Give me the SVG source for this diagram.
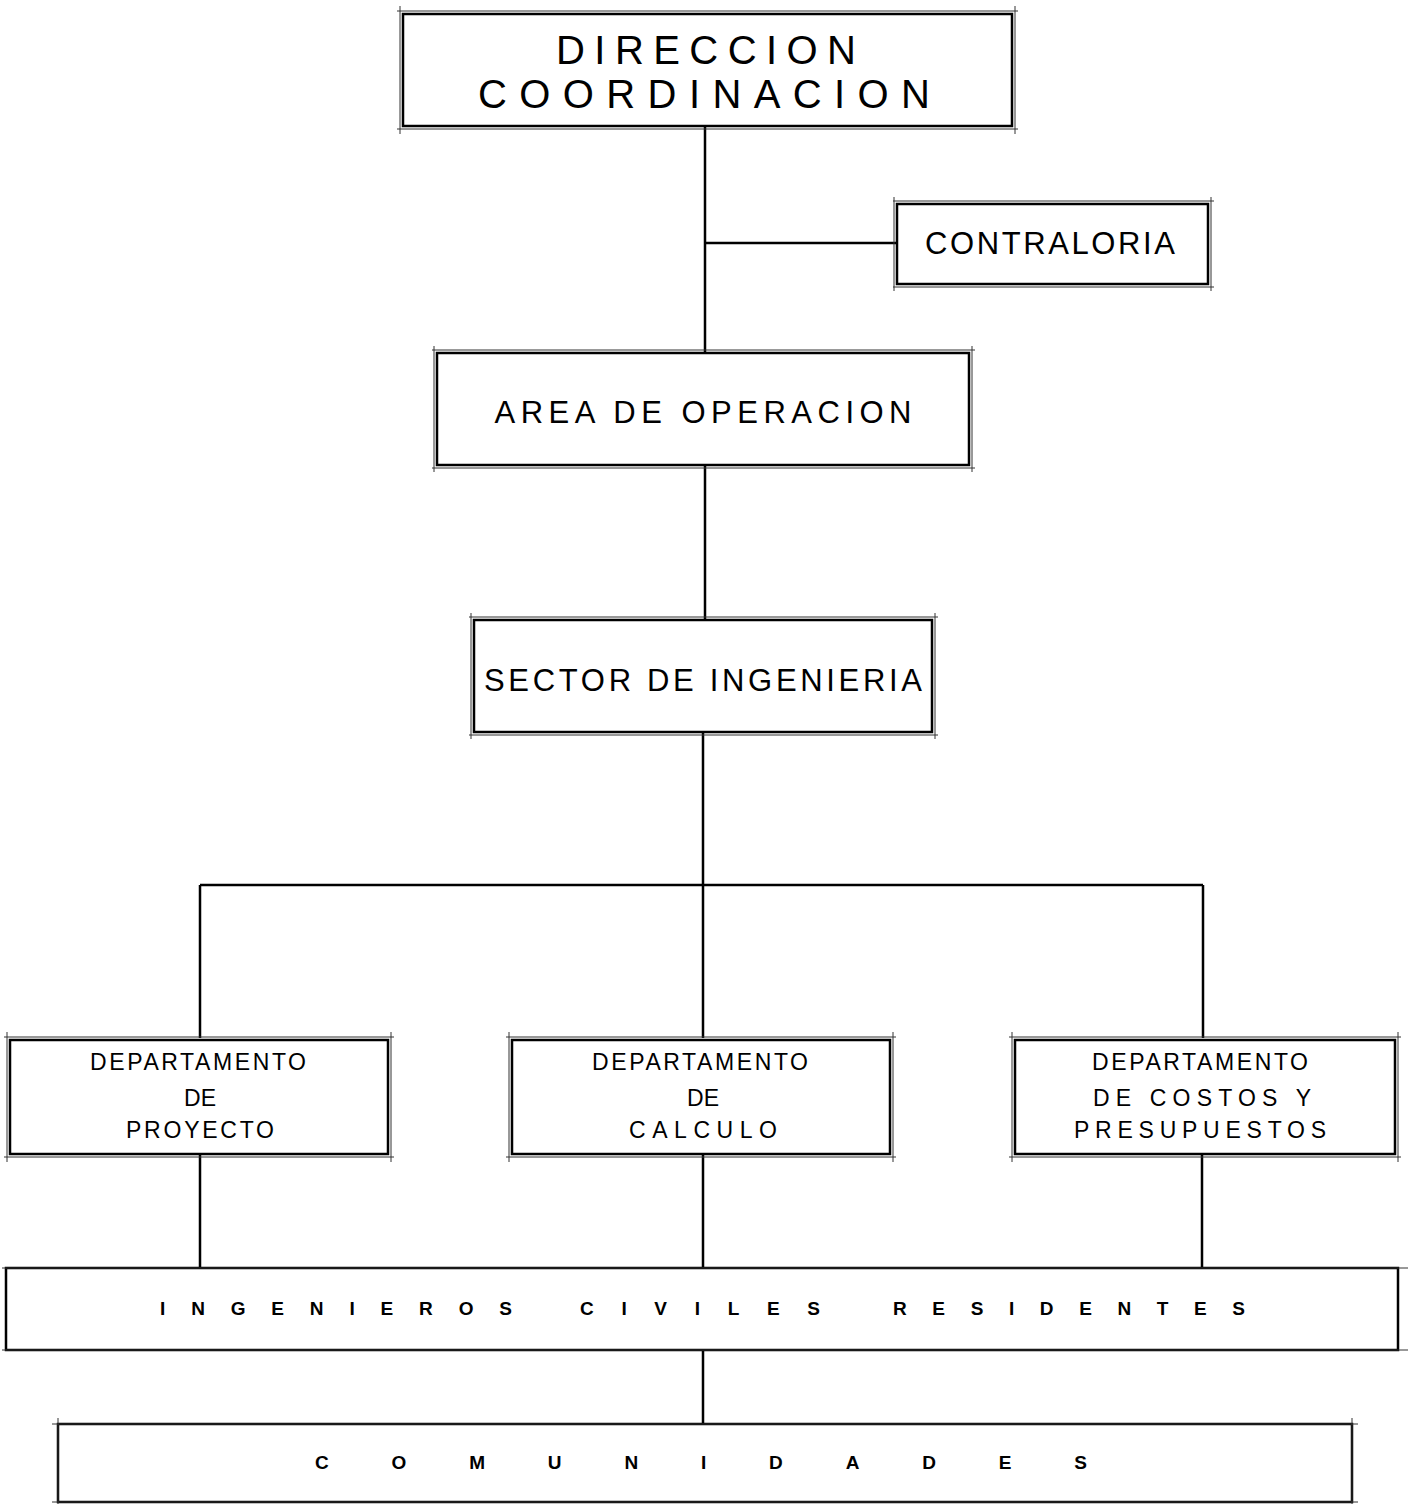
<svg xmlns="http://www.w3.org/2000/svg" width="1412" height="1504" viewBox="0 0 1412 1504">
<style>
.box{fill:#fff;stroke:#000;stroke-width:2.5}
.tick{stroke:#333;stroke-width:1;fill:none}
.conn{stroke:#000;stroke-width:2.5;fill:none}
text{font-family:"Liberation Sans","DejaVu Sans",Arial,sans-serif;fill:#000;text-anchor:middle;dominant-baseline:central}
.big{font-size:40px}
.mid{font-size:31px}
.dep{font-size:23px}
.band{font-size:19px;font-weight:bold}
</style>
<rect width="1412" height="1504" fill="#fff"/>
<g id="connectors">
<path class="conn" d="M705 126V353M705 243H897M705 465V620M703 732V885M200 885H1203M200 885V1038M703 885V1038M1203 885V1038M200 1155V1268M703 1155V1268M1202 1155V1268M703 1350V1424"/>
</g>
<g id="direccion">
<rect class="box" x="403" y="14" width="609" height="112"/>
<path class="tick" d="M397 11H1018M397 129H1018M400 6V134M1015 6V134"/>
<text class="big" x="706" y="50" textLength="300" lengthAdjust="spacing">DIRECCION</text>
<text class="big" x="704" y="94" textLength="452" lengthAdjust="spacing">COORDINACION</text>
</g>
<g id="contraloria">
<rect class="box" x="897" y="204" width="311" height="80"/>
<path class="tick" d="M893 201H1214M893 287H1214M894 197V291M1211 197V291"/>
<text class="mid" x="1050" y="243" textLength="250" lengthAdjust="spacing">CONTRALORIA</text>
</g>
<g id="area-operacion">
<rect class="box" x="437" y="353" width="532" height="112"/>
<path class="tick" d="M432 350H975M432 468H975M434 346V472M972 346V472"/>
<text class="mid" x="703" y="412" textLength="417" lengthAdjust="spacing">AREA  DE  OPERACION</text>
</g>
<g id="sector-ingenieria">
<rect class="box" x="474" y="620" width="458" height="112"/>
<path class="tick" d="M469 617H938M469 735H938M471 613V739M935 613V739"/>
<text class="mid" x="703" y="680" textLength="438" lengthAdjust="spacing">SECTOR  DE  INGENIERIA</text>
</g>
<g id="dep-proyecto">
<rect class="box" x="10" y="1040" width="378" height="114"/>
<path class="tick" d="M4 1037H394M4 1157H394M7 1032V1162M391 1032V1162"/>
<text class="dep" x="198" y="1062" textLength="216" lengthAdjust="spacing">DEPARTAMENTO</text>
<text class="dep" x="200" y="1098">DE</text>
<text class="dep" x="200" y="1130" textLength="148" lengthAdjust="spacing">PROYECTO</text>
</g>
<g id="dep-calculo">
<rect class="box" x="512" y="1040" width="378" height="114"/>
<path class="tick" d="M506 1037H896M506 1157H896M509 1032V1162M893 1032V1162"/>
<text class="dep" x="700" y="1062" textLength="216" lengthAdjust="spacing">DEPARTAMENTO</text>
<text class="dep" x="703" y="1098">DE</text>
<text class="dep" x="703" y="1130" textLength="148" lengthAdjust="spacing">CALCULO</text>
</g>
<g id="dep-costos">
<rect class="box" x="1015" y="1040" width="380" height="114"/>
<path class="tick" d="M1009 1037H1401M1009 1157H1401M1012 1032V1162M1398 1032V1162"/>
<text class="dep" x="1200" y="1062" textLength="216" lengthAdjust="spacing">DEPARTAMENTO</text>
<text class="dep" x="1202" y="1098" textLength="218" lengthAdjust="spacing">DE  COSTOS  Y</text>
<text class="dep" x="1200" y="1130" textLength="252" lengthAdjust="spacing">PRESUPUESTOS</text>
</g>
<g id="ingenieros">
<rect class="box" x="6" y="1268" width="1392" height="82"/>
<path class="tick" d="M2 1268H1408M2 1350H1408"/>
<text class="band" x="336" y="1308" textLength="352" lengthAdjust="spacing">INGENIEROS</text>
<text class="band" x="700" y="1308" textLength="240" lengthAdjust="spacing">CIVILES</text>
<text class="band" x="1069" y="1308" textLength="352" lengthAdjust="spacing">RESIDENTES</text>
</g>
<g id="comunidades">
<rect class="box" x="58" y="1424" width="1294" height="78"/>
<path class="tick" d="M52 1424H1358M52 1502H1358M58 1418V1504M1352 1418V1504"/>
<text class="band" x="701" y="1462" textLength="772" lengthAdjust="spacing">COMUNIDADES</text>
</g>
</svg>
